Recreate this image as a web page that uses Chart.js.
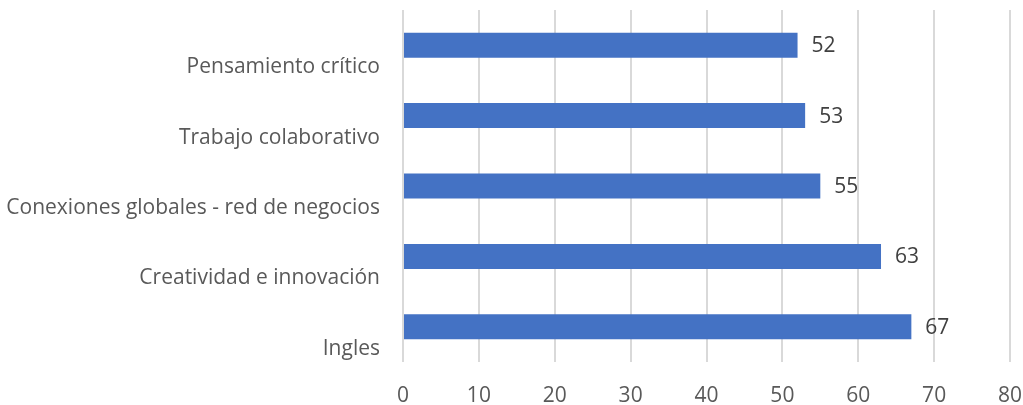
<!DOCTYPE html>
<html><head><meta charset="utf-8">
<script src="https://cdn.jsdelivr.net/npm/chart.js@4/dist/chart.umd.min.js"></script>
<style>html,body{margin:0;padding:0;background:#fff}#wrap{width:1023px;height:405px}</style>
</head><body><div id="wrap"><canvas id="c"></canvas></div>
<script>
const categories = ["Pensamiento crítico","Trabajo colaborativo","Conexiones globales - red de negocios","Creatividad e innovación","Ingles"];
const values = [52,53,55,63,67];
const xTicks = [0,10,20,30,40,50,60,70,80];

const FONT = "'Open Sans', sans-serif";
const valueLabels = {
  id:'valueLabels',
  afterDatasetsDraw(chart){
    const {ctx} = chart;
    const meta = chart.getDatasetMeta(0);
    ctx.save();
    ctx.font = "21px " + FONT;
    ctx.fillStyle = "#404040";
    ctx.textBaseline = "middle";
    ctx.textAlign = "left";
    meta.data.forEach((bar,i)=>{
      ctx.fillText(String(values[i]), bar.x + 14, bar.y + 1);
    });
    ctx.restore();
  }
};

new Chart(document.getElementById('c'), {
  type:'bar',
  data:{labels:categories, datasets:[{data:values, backgroundColor:'#4472C4', barPercentage:0.355, categoryPercentage:1.0}]},
  options:{
    indexAxis:'y', responsive:true, maintainAspectRatio:false, animation:false,
    layout:{padding:{top:10,right:13,left:0,bottom:0}},
    plugins:{legend:{display:false}, tooltip:{enabled:false}},
    scales:{
      x:{min:0,max:80,
        afterBuildTicks(s){ s.ticks = xTicks.map(v=>({value:v})); },
        grid:{color:'#d9d9d9', lineWidth:2, drawTicks:false},
        border:{display:false},
        ticks:{color:'#595959', font:{family:FONT,size:21}, padding:21},
        afterFit(s){ s.height = 43; s.paddingLeft = 0; s.paddingRight = 0; }
      },
      y:{
        grid:{display:false, drawTicks:false},
        border:{display:false},
        ticks:{color:'#595959', font:{family:FONT,size:21}, padding:23, labelOffset:22},
        afterFit(s){ s.width = 403; s.paddingTop = 0; s.paddingBottom = 0; }
      }
    }
  },
  plugins:[valueLabels]
});
</script></body></html>
